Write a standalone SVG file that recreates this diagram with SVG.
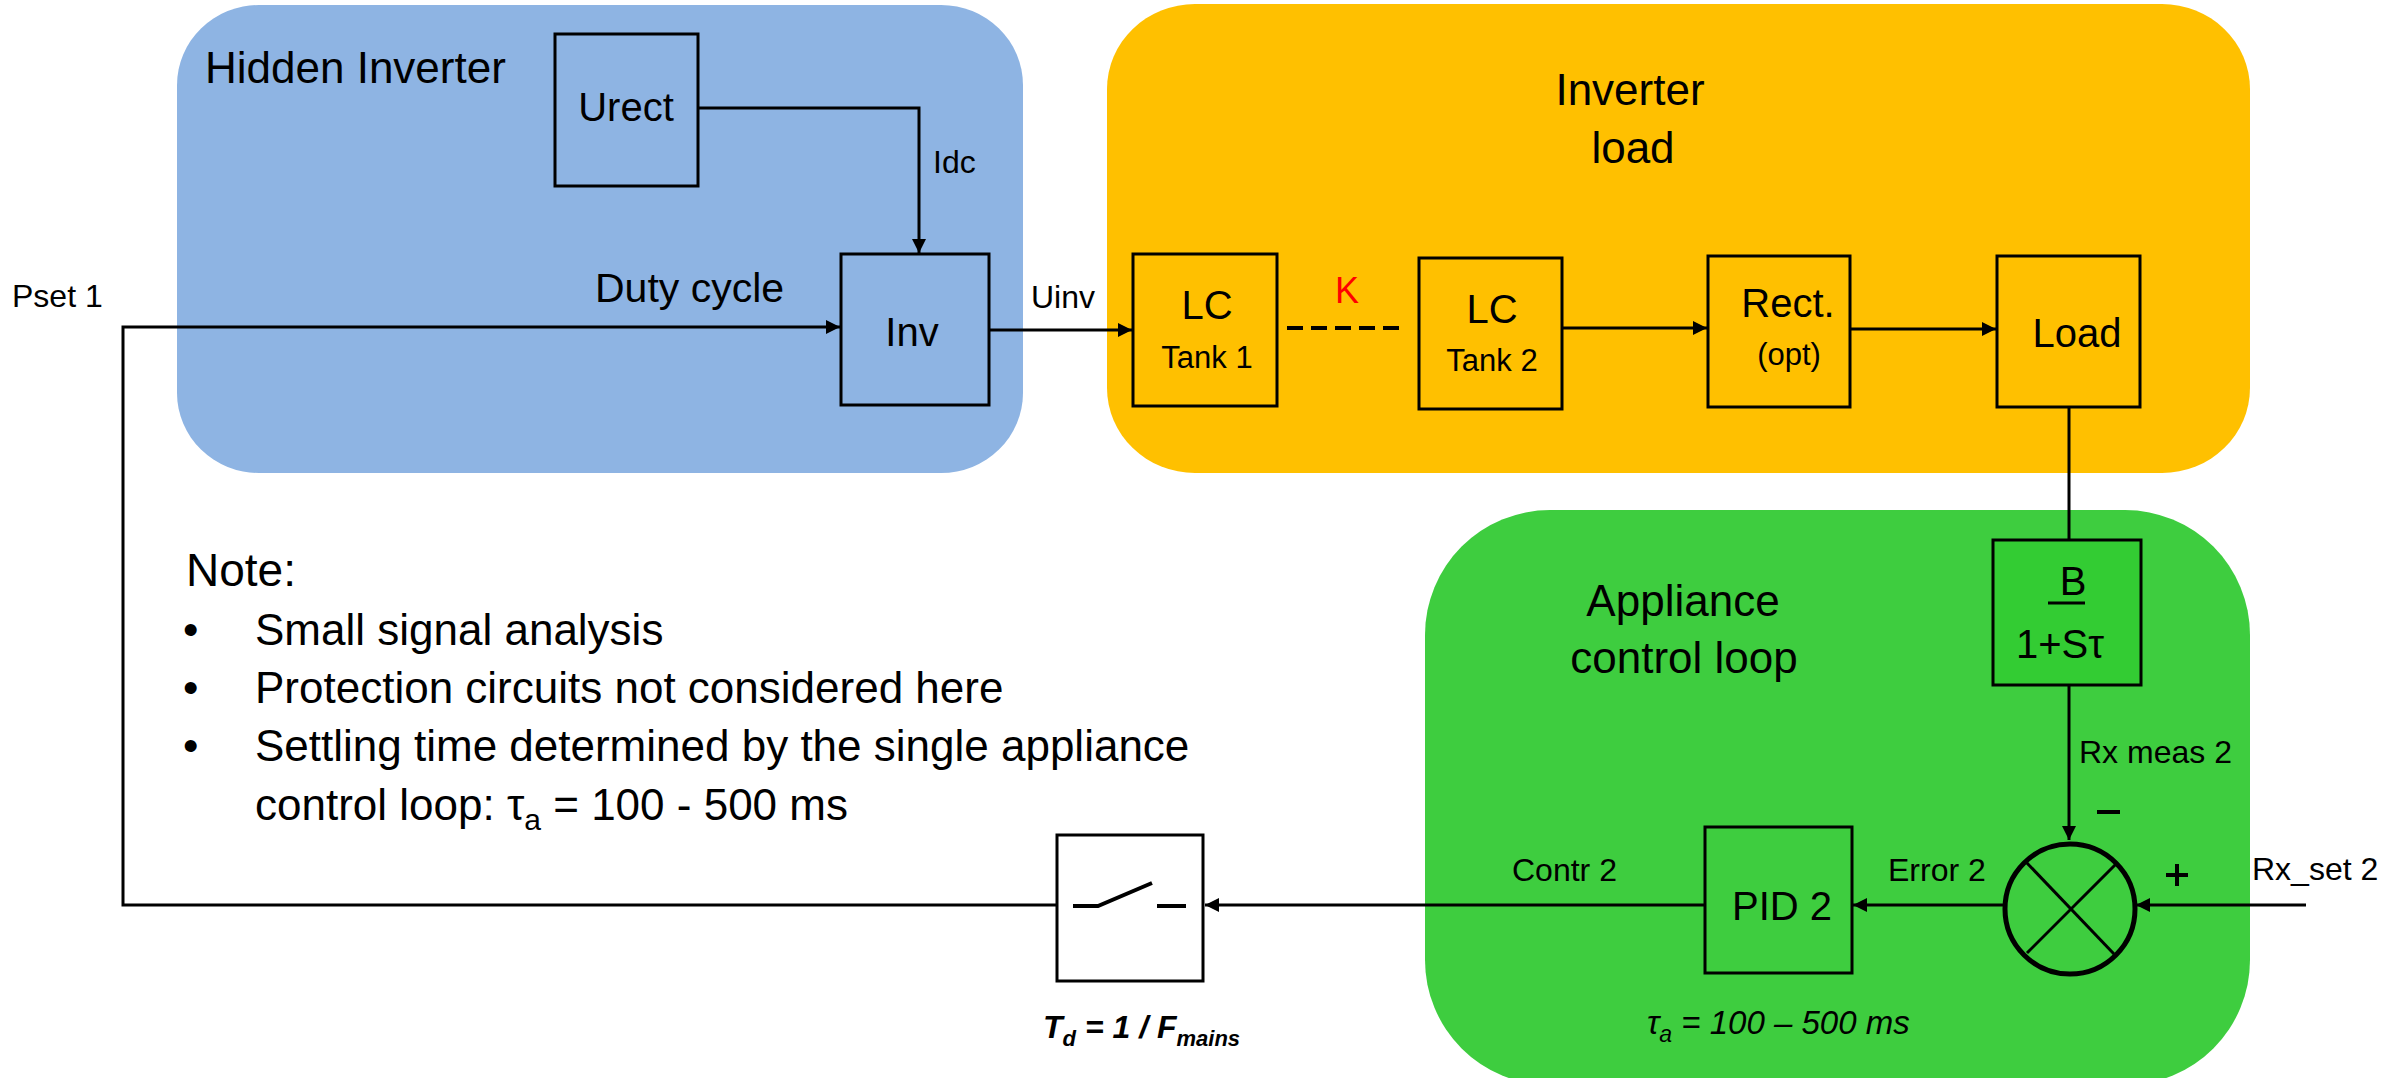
<svg xmlns="http://www.w3.org/2000/svg" width="2389" height="1078" viewBox="0 0 2389 1078">
<style>
text{font-family:"Liberation Sans",Arial,sans-serif;fill:#000}
.t44{font-size:44px}
.t40{font-size:40px}
.t32{font-size:32px}
.t31{font-size:31px}
.box{fill:none;stroke:#000;stroke-width:3}
.ln{fill:none;stroke:#000;stroke-width:3}
.c{text-anchor:middle}
</style>
<defs>
<marker id="arr" markerUnits="userSpaceOnUse" markerWidth="15" markerHeight="14" refX="14" refY="7" orient="auto">
<path d="M0,0 L14,7 L0,14 z" fill="#000"/>
</marker>
</defs>
<rect width="2389" height="1078" fill="#fff"/>

<g id="region-hidden-inverter">
<rect x="177" y="5" width="846" height="468" rx="82" ry="80" fill="#8EB4E3"/>
<text class="t44" x="205" y="83">Hidden Inverter</text>
</g>
<g id="region-inverter-load">
<rect x="1107" y="4" width="1143" height="469" rx="88" ry="85" fill="#FFC000"/>
<text class="t44 c" x="1630" y="105">Inverter</text>
<text class="t44 c" x="1633" y="163">load</text>
</g>
<g id="region-appliance">
<rect x="1425" y="510" width="825" height="575" rx="125" ry="125" fill="#3ECD3F"/>
<text class="t44 c" x="1683" y="616">Appliance</text>
<text class="t44 c" x="1684" y="673">control loop</text>
</g>

<g id="connectors">
<path class="ln" d="M698,108 H919 V253" marker-end="url(#arr)"/>
<path class="ln" d="M1057,905 H123 V327 H840" marker-end="url(#arr)"/>
<path class="ln" d="M989,330 H1132" marker-end="url(#arr)"/>
<path d="M1287,328 H1407" fill="none" stroke="#000" stroke-width="4" stroke-dasharray="16,8"/>
<path class="ln" d="M1562,328 H1707" marker-end="url(#arr)"/>
<path class="ln" d="M1850,329 H1996" marker-end="url(#arr)"/>
<path class="ln" d="M2069,407 V540"/>
<path class="ln" d="M2069,685 V840" marker-end="url(#arr)"/>
<path class="ln" d="M2306,905 H2136" marker-end="url(#arr)"/>
<path class="ln" d="M2004,905 H1853" marker-end="url(#arr)"/>
<path class="ln" d="M1705,905 H1205" marker-end="url(#arr)"/>
<text class="t32" x="933" y="173">Idc</text>
<text style="font-size:41px" x="595" y="302">Duty cycle</text>
<text class="t32" x="12" y="307">Pset 1</text>
<text class="t32" x="1031" y="308">Uinv</text>
<text x="1335" y="303" style="font-size:36px;fill:#FF0000">K</text>
<text class="t32" x="2079" y="763">Rx meas 2</text>
<text class="t32" x="2252" y="880">Rx_set 2</text>
<text class="t32" x="1888" y="881">Error 2</text>
<text class="t32" x="1512" y="881">Contr 2</text>
</g>

<g id="node-urect">
<rect class="box" x="555" y="34" width="143" height="152"/>
<text class="t40 c" x="626" y="121">Urect</text>
</g>
<g id="node-inv">
<rect class="box" x="841" y="254" width="148" height="151"/>
<text class="t40 c" x="912" y="346">Inv</text>
</g>
<g id="node-lc1">
<rect class="box" x="1133" y="254" width="144" height="152"/>
<text class="t40 c" x="1207" y="319">LC</text>
<text class="t31 c" x="1207" y="368">Tank 1</text>
</g>
<g id="node-lc2">
<rect class="box" x="1419" y="258" width="143" height="151"/>
<text class="t40 c" x="1492" y="323">LC</text>
<text class="t31 c" x="1492" y="371">Tank 2</text>
</g>
<g id="node-rect">
<rect class="box" x="1708" y="256" width="142" height="151"/>
<text class="t40 c" x="1788" y="317">Rect.</text>
<text class="t31 c" x="1789" y="365">(opt)</text>
</g>
<g id="node-load">
<rect class="box" x="1997" y="256" width="143" height="151"/>
<text class="t40 c" x="2077" y="347">Load</text>
</g>
<g id="node-filter">
<rect x="1993" y="540" width="148" height="145" fill="#33CC33" stroke="#000" stroke-width="3"/>
<text class="t40 c" x="2073" y="595">B</text>
<line x1="2048" y1="603" x2="2085" y2="603" stroke="#000" stroke-width="3"/>
<text class="t40" x="2016" y="658">1+Sτ</text>
</g>
<g id="node-sum">
<circle cx="2070" cy="909" r="65" fill="none" stroke="#000" stroke-width="5"/>
<line x1="2026" y1="862" x2="2114" y2="954" stroke="#000" stroke-width="3"/>
<line x1="2116" y1="864" x2="2027" y2="953" stroke="#000" stroke-width="3"/>
<line x1="2097" y1="812" x2="2120" y2="812" stroke="#000" stroke-width="4"/>
<path d="M2166,875 H2188 M2177,864 V886" stroke="#000" stroke-width="4"/>
</g>
<g id="node-pid">
<rect class="box" x="1705" y="827" width="147" height="146"/>
<text class="t40 c" x="1782" y="920">PID 2</text>
<text x="1647" y="1034" style="font-size:33px;font-style:italic">τ<tspan dy="8" style="font-size:23px">a</tspan><tspan dy="-8"> = 100 – 500 ms</tspan></text>
</g>
<g id="node-switch">
<rect x="1057" y="835" width="146" height="146" fill="#fff" stroke="#000" stroke-width="3"/>
<path d="M1073,906 H1098 L1152,883 M1157,906 H1186" fill="none" stroke="#000" stroke-width="4"/>
<text x="1043" y="1038" style="font-size:32px;font-weight:bold;font-style:italic">T<tspan dy="8" style="font-size:22px">d</tspan><tspan dy="-8"> = 1 /  F</tspan><tspan dy="8" style="font-size:22px">mains</tspan></text>
</g>

<g id="note">
<text x="186" y="586" style="font-size:46px">Note:</text>
<text class="t44" x="183" y="645">•</text>
<text class="t44" x="255" y="645">Small signal analysis</text>
<text class="t44" x="183" y="703">•</text>
<text class="t44" x="255" y="703">Protection circuits not considered here</text>
<text class="t44" x="183" y="761">•</text>
<text class="t44" x="255" y="761">Settling time determined by the single appliance</text>
<text class="t44" x="255" y="820">control loop: τ<tspan dy="10" style="font-size:30px">a</tspan><tspan dy="-10">  = 100 - 500 ms</tspan></text>
</g>
</svg>
